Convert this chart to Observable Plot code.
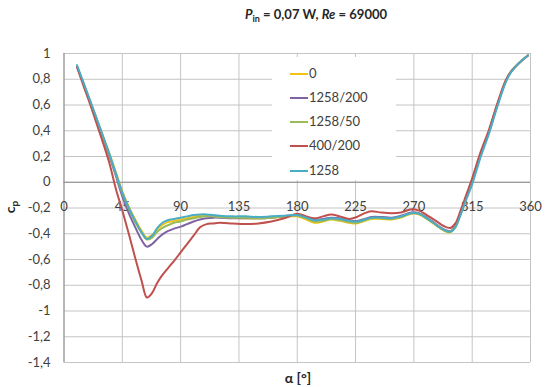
<!DOCTYPE html>
<html>
<head>
<meta charset="utf-8">
<script src="https://cdn.jsdelivr.net/npm/d3@7"></script>
<script src="https://cdn.jsdelivr.net/npm/@observablehq/plot@0.6"></script>
<style>
  body { margin: 0; background: #fff; }
  #wrap { position: relative; width: 546px; height: 387px; font-family: Lato, "Open Sans", sans-serif; color: #404040; }
  #wrap svg { display: block; position: absolute; left: 0; top: 0; }
  .abs { position: absolute; white-space: nowrap; }
  #title { left: 216px; width: 200px; top: 6px; text-align: center; font-weight: bold; font-size: 13px; line-height: 16px; color: #262626; }
  #title sub { font-size: 9px; vertical-align: -3px; line-height: 0; }
  #ylab { left: -2px; top: 199px; width: 24px; text-align: center; font-weight: bold; font-size: 14px; line-height: 16px; transform: rotate(-90deg); color: #262626; }
  #ylab sub { font-size: 10px; vertical-align: -3px; line-height: 0; }
  #xlab { left: 268px; width: 60px; top: 370px; text-align: center; font-weight: bold; font-size: 14px; line-height: 16px; color: #262626; }
  #legend { left: 272px; top: 57px; width: 124px; height: 123px; background: #fff; }
  .item { position: absolute; left: 18px; height: 16px; font-size: 13px; line-height: 16px; }
  .item span.sw { display: inline-block; width: 18px; height: 2px; vertical-align: middle; margin-right: 1px; position: relative; top: -1px; }
</style>
</head>
<body>
<div id="wrap">
  <div id="title" class="abs"><i>P</i><sub>in</sub> = 0,07 W, <i>Re</i> = 69000</div>
  <div id="ylab" class="abs">c<sub>p</sub></div>
  <div id="xlab" class="abs">α [°]</div>
  <div id="legend" class="abs"></div>
</div>
<script>
// ---- data ----
const seriesNames = ["0", "1258/200", "1258/50", "400/200", "1258"];
const seriesColors = ["#F2C314", "#8064A2", "#9BBB59", "#C0504D", "#4BACC6"];
const xTicks = [0, 45, 90, 135, 180, 225, 270, 315, 360];
const yTicks = [1, 0.8, 0.6, 0.4, 0.2, 0, -0.2, -0.4, -0.6, -0.8, -1, -1.2, -1.4];

const alpha = [10,15,20,25,30,35,40,45,50,55,60,64,68,72,76,80,85,90,95,100,105,110,115,120,130,140,150,160,170,180,187,193,200,206,213,220,226,232,237,245,253,260,268,274,280,287,293,298,302,306,310,315,321,328,334,341,345,351,358];

const cp_0 = [0.90,0.77,0.635,0.50,0.36,0.225,0.08,-0.07,-0.19,-0.29,-0.38,-0.43,-0.41,-0.365,-0.33,-0.31,-0.30,-0.29,-0.28,-0.27,-0.26,-0.26,-0.26,-0.265,-0.275,-0.28,-0.28,-0.275,-0.27,-0.265,-0.29,-0.315,-0.305,-0.29,-0.30,-0.315,-0.32,-0.30,-0.285,-0.285,-0.29,-0.275,-0.245,-0.25,-0.285,-0.335,-0.375,-0.39,-0.35,-0.25,-0.135,0.005,0.195,0.395,0.59,0.79,0.86,0.925,0.985];

const cp_1258_200 = [0.90,0.765,0.63,0.49,0.35,0.205,0.05,-0.11,-0.24,-0.35,-0.45,-0.50,-0.48,-0.44,-0.405,-0.38,-0.36,-0.345,-0.325,-0.305,-0.29,-0.28,-0.275,-0.275,-0.28,-0.28,-0.28,-0.275,-0.265,-0.255,-0.27,-0.29,-0.285,-0.275,-0.28,-0.295,-0.30,-0.285,-0.27,-0.27,-0.275,-0.26,-0.235,-0.24,-0.275,-0.325,-0.365,-0.38,-0.34,-0.24,-0.13,0.005,0.195,0.39,0.585,0.785,0.86,0.925,0.985];

const cp_1258_50 = [0.90,0.765,0.63,0.495,0.355,0.215,0.065,-0.085,-0.205,-0.31,-0.395,-0.445,-0.43,-0.385,-0.355,-0.335,-0.315,-0.305,-0.29,-0.28,-0.27,-0.265,-0.265,-0.27,-0.275,-0.275,-0.28,-0.275,-0.265,-0.26,-0.28,-0.305,-0.30,-0.285,-0.295,-0.31,-0.315,-0.295,-0.28,-0.28,-0.285,-0.27,-0.24,-0.245,-0.28,-0.33,-0.37,-0.385,-0.345,-0.245,-0.135,0.005,0.195,0.39,0.585,0.785,0.86,0.925,0.985];

const cp_400_200 = [0.895,0.75,0.61,0.46,0.31,0.15,-0.05,-0.22,-0.40,-0.59,-0.77,-0.895,-0.86,-0.78,-0.72,-0.67,-0.61,-0.545,-0.48,-0.415,-0.35,-0.325,-0.32,-0.315,-0.32,-0.325,-0.32,-0.305,-0.28,-0.245,-0.265,-0.28,-0.265,-0.25,-0.265,-0.285,-0.27,-0.24,-0.225,-0.235,-0.24,-0.235,-0.21,-0.22,-0.255,-0.30,-0.34,-0.355,-0.32,-0.22,-0.11,0.03,0.22,0.41,0.60,0.795,0.86,0.925,0.985];

const cp_1258 = [0.91,0.775,0.64,0.50,0.36,0.22,0.07,-0.08,-0.20,-0.30,-0.39,-0.44,-0.415,-0.355,-0.315,-0.295,-0.285,-0.275,-0.265,-0.255,-0.25,-0.25,-0.255,-0.26,-0.265,-0.265,-0.27,-0.265,-0.26,-0.255,-0.275,-0.295,-0.29,-0.28,-0.285,-0.30,-0.305,-0.29,-0.275,-0.275,-0.28,-0.265,-0.24,-0.245,-0.28,-0.33,-0.37,-0.385,-0.35,-0.255,-0.145,-0.015,0.18,0.38,0.575,0.78,0.855,0.925,0.985];

const seriesValues = [cp_0, cp_1258_200, cp_1258_50, cp_400_200, cp_1258];

// ---- build table ----
const rows = [];
seriesNames.forEach((name, i) => {
  alpha.forEach((a, j) => rows.push({series: name, alpha: a, cp: seriesValues[i][j]}));
});

const fmt = d => String(d).replace(".", ",");

const chart = Plot.plot({
  width: 546,
  height: 387,
  marginLeft: 63.5,
  marginRight: 16,
  marginTop: 53,
  marginBottom: 25,
  style: {fontFamily: "Lato, 'Open Sans', sans-serif", fontSize: "13px", color: "#404040", background: "transparent"},
  x: {domain: [0, 360], axis: null},
  y: {domain: [-1.4, 1], axis: null},
  color: {domain: seriesNames, range: seriesColors},
  marks: [
    Plot.gridY(yTicks, {stroke: "#c4c4c4", strokeOpacity: 1, strokeWidth: 1}),
    Plot.gridX(xTicks, {stroke: "#c4c4c4", strokeOpacity: 1, strokeWidth: 1}),
    Plot.ruleY([0], {stroke: "#8c8c8c", strokeWidth: 1}),
    Plot.ruleX([0], {stroke: "#8c8c8c", strokeWidth: 1}),
    Plot.axisY(yTicks, {tickSize: 0, tickPadding: 13.5, tickFormat: fmt, fontSize: 13, fill: "#404040", label: null}),
    Plot.text(xTicks, {x: d => d, y: 0, dy: 25, text: d => String(d), fontSize: 13, fill: "#404040"}),
    Plot.line(rows, {x: "alpha", y: "cp", z: "series", stroke: "series", strokeWidth: 2, curve: "catmull-rom"})
  ]
});
document.getElementById("wrap").insertBefore(chart, document.getElementById("wrap").firstChild);

// ---- legend (HTML) ----
const legend = document.getElementById("legend");
const legendTops = [8, 32, 56, 80, 105];
seriesNames.forEach((name, i) => {
  const it = document.createElement("div");
  it.className = "item";
  it.style.top = legendTops[i] + "px";
  it.innerHTML = `<span class="sw" style="background:${seriesColors[i]}"></span>${name}`;
  legend.appendChild(it);
});
</script>
</body>
</html>
